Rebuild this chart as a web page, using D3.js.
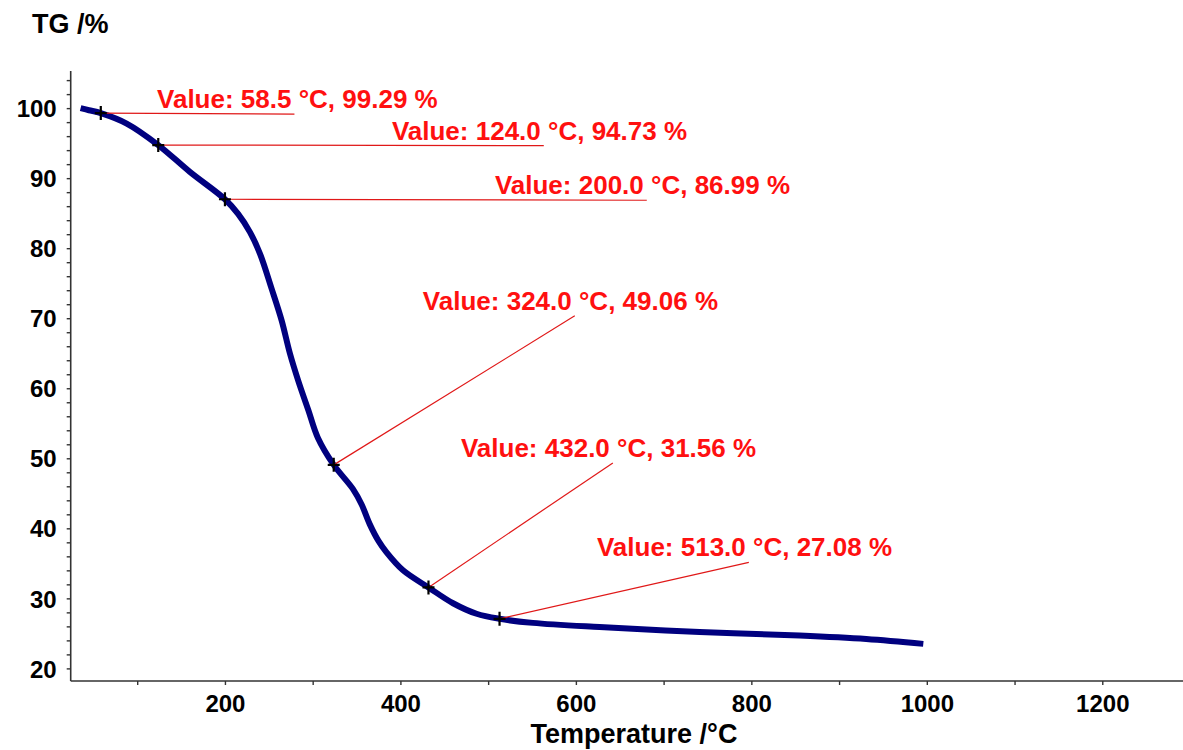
<!DOCTYPE html>
<html>
<head>
<meta charset="utf-8">
<script src="https://cdn.jsdelivr.net/npm/d3@7"></script>
<style>
  body { margin: 0; background: #fff; }
  svg { display: block; }
  .tick text { font-family: "Liberation Sans", Arial, sans-serif; font-weight: bold; font-size: 24px; fill: #000; }
  .axis-title { font-family: "Liberation Sans", Arial, sans-serif; font-weight: bold; font-size: 27px; fill: #000; }
  .note { font-family: "Liberation Sans", Arial, sans-serif; font-weight: bold; font-size: 26px; fill: #ff1010; }
</style>
</head>
<body>
<svg id="chart" width="1183" height="750"></svg>
<script>
// TG curve
const tempC = [35.5, 45, 58.5, 88, 124, 160, 200, 215, 228.5, 240, 253, 264.6, 274, 283.5, 295, 306, 324,
  346, 355.8, 365, 375, 384, 403, 432, 460, 486.8, 513, 551, 627, 741, 855, 931, 996]
const tgPct = [100, 99.7, 99.29, 97.8, 94.73, 90.9, 86.99, 84.9, 82.3, 79.2, 74.3, 69.7, 65, 61.1, 56.9, 52.9, 49.06,
  45.6, 43.4, 40.6, 38.2, 36.6, 34, 31.56, 29.3, 27.8, 27.08, 26.5, 25.9, 25.2, 24.7, 24.2, 23.5]

// marked values
const markTemp = [58.5, 124.0, 200.0, 324.0, 432.0, 513.0]
const markTg = [99.29, 94.73, 86.99, 49.06, 31.56, 27.08]

// where each label sits (data units: left edge / baseline)
const labelTemp = [122.6, 390.3, 507.7, 425.6, 469, 624]
const labelTg = [100, 95.5, 87.7, 71.2, 50.2, 36]

const xTicks = d3.range(100, 1300, 100)
const yTicks = d3.range(20, 106, 2)

const svg = d3.select('#chart')
const W = 1183

const x = d3.scaleLinear().domain([24.2, 1292]).range([70.7, 1183])
const y = d3.scaleLinear().domain([18.2, 105.3]).range([681, 71])

// axes
const xAxis = d3.axisBottom(x).tickValues(xTicks).tickSize(4).tickPadding(10)
  .tickFormat(d => d % 200 === 0 ? d : '')
const yAxis = d3.axisLeft(y).tickValues(yTicks).tickSize(4).tickPadding(10)
  .tickFormat(d => d % 10 === 0 ? d : '')

const gx = svg.append('g').attr('transform', `translate(0,${y.range()[0]})`).call(xAxis)
const gy = svg.append('g').attr('transform', `translate(${x.range()[0]},0)`).call(yAxis)
gx.select('.domain').attr('d', `M${x.range()[0]},0H${W}`)
gy.select('.domain').attr('d', `M0,${y.range()[0]}V${y.range()[1]}`)
svg.selectAll('.domain').attr('stroke', '#333').attr('stroke-width', 1.6)
svg.selectAll('.tick line').attr('stroke', '#333').attr('stroke-width', 1.4)
gy.selectAll('.tick text').attr('dy', '0.36em')

svg.append('text').attr('class', 'axis-title')
  .attr('x', 634).attr('y', 743).attr('text-anchor', 'middle')
  .text('Temperature /°C')
svg.append('text').attr('class', 'axis-title')
  .attr('x', 32).attr('y', 33)
  .text('TG /%')

// curve
const pts = tempC.map((t, i) => [t, tgPct[i]])
svg.append('path')
  .datum(pts)
  .attr('fill', 'none')
  .attr('stroke', '#00007f')
  .attr('stroke-width', 6)
  .attr('stroke-linejoin', 'round')
  .attr('d', d3.line().x(d => x(d[0])).y(d => y(d[1])).curve(d3.curveCatmullRom.alpha(0.5)))

// annotations
const notes = svg.append('g')
markTemp.forEach((t, i) => {
  const txt = notes.append('text').attr('class', 'note')
    .attr('x', x(labelTemp[i])).attr('y', y(labelTg[i]))
  const head = txt.append('tspan').text(`Value: ${t.toFixed(1)}`)
  txt.append('tspan').text(` °C, ${markTg[i].toFixed(2)} %`)
  const len = head.node().getComputedTextLength()
  notes.insert('line', 'text')
    .attr('x1', x(t)).attr('y1', y(markTg[i]))
    .attr('x2', x(labelTemp[i]) + len + 3).attr('y2', y(labelTg[i]) + 6)
    .attr('stroke', '#e01818').attr('stroke-width', 1.2)
})

// cross markers
const cross = svg.append('g')
markTemp.forEach((t, i) => {
  const cx = x(t), cy = y(markTg[i])
  cross.append('path')
    .attr('d', `M${cx - 6},${cy}H${cx + 6}M${cx},${cy - 7}V${cy + 7}`)
    .attr('stroke', '#000').attr('stroke-width', 2.2)
})
</script>
</body>
</html>
